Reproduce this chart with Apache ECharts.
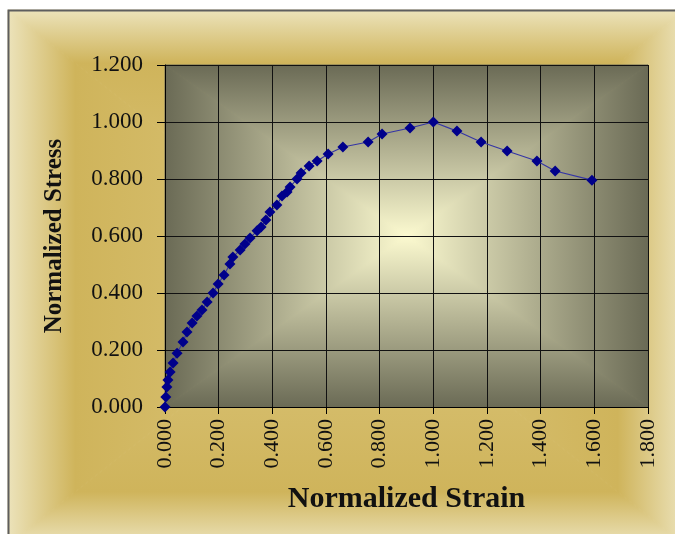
<!DOCTYPE html>
<html>
<head>
<meta charset="utf-8">
<script src="https://cdn.jsdelivr.net/npm/echarts@6/dist/echarts.min.js"></script>
<style>
html,body{margin:0;padding:0;background:#fff;}
#chart{width:675px;height:534px;}
</style>
</head>
<body>
<div id="chart"></div>
<script>
// Data
var strainValues = [0.000, 0.003, 0.007, 0.011, 0.019, 0.030, 0.045, 0.067, 0.082, 0.101,
  0.119, 0.138, 0.157, 0.179, 0.198, 0.220, 0.242, 0.253, 0.280, 0.298,
  0.317, 0.343, 0.358, 0.376, 0.391, 0.417, 0.436, 0.455, 0.466, 0.492,
  0.507, 0.537, 0.567, 0.608, 0.663, 0.757, 0.809, 0.913, 1.000, 1.088,
  1.178, 1.275, 1.386, 1.454, 1.591];
var stressValues = [0.000, 0.035, 0.070, 0.095, 0.123, 0.154, 0.189, 0.228, 0.263, 0.295,
  0.319, 0.340, 0.368, 0.400, 0.432, 0.463, 0.502, 0.526, 0.551, 0.572,
  0.593, 0.618, 0.632, 0.656, 0.684, 0.709, 0.740, 0.754, 0.772, 0.800,
  0.821, 0.846, 0.863, 0.888, 0.912, 0.930, 0.958, 0.979, 1.000, 0.968,
  0.930, 0.898, 0.863, 0.828, 0.796];
var xTicks = [0, 0.2, 0.4, 0.6, 0.8, 1.0, 1.2, 1.4, 1.6, 1.8];
var yTicks = [0, 0.2, 0.4, 0.6, 0.8, 1.0, 1.2];
var xAxisTitle = 'Normalized Strain';
var yAxisTitle = 'Normalized Stress';

var points = strainValues.map(function (x, i) { return [x, stressValues[i]]; });

var FONT = "'Liberation Serif','Times New Roman',serif";
var G = {left: 165, top: 65, right: 648, bottom: 407};

function rectGradient(x0, y0, x1, y1, stops, zv) {
  var cx = (x0 + x1) / 2, cy = (y0 + y1) / 2;
  function lg(dir) {
    var g = {type: 'linear', x: 0, y: 0, x2: 0, y2: 0, global: false, colorStops: stops};
    if (dir === 'top') { g.y2 = 1; }
    if (dir === 'bottom') { g.y = 1; g.y2 = 0; }
    if (dir === 'left') { g.x2 = 1; }
    if (dir === 'right') { g.x = 1; g.x2 = 0; }
    return g;
  }
  function poly(pts, dir) {
    return {type: 'polygon', z: zv, silent: true, shape: {points: pts},
      style: {fill: lg(dir), stroke: lg(dir), lineWidth: 1}};
  }
  return [
    poly([[x0, y0], [x1, y0], [cx, cy]], 'top'),
    poly([[x0, y1], [x1, y1], [cx, cy]], 'bottom'),
    poly([[x0, y0], [x0, y1], [cx, cy]], 'left'),
    poly([[x1, y0], [x1, y1], [cx, cy]], 'right')
  ];
}

var frameStops = [
  {offset: 0, color: '#ece3bb'},
  {offset: 0.2, color: '#cfb45b'},
  {offset: 1, color: '#dcc77e'}
];
var plotStops = [
  {offset: 0, color: '#6a6a55'},
  {offset: 1, color: '#fcfad0'}
];

var graphics = []
  .concat(rectGradient(8, 10, 685, 545, frameStops, -20))
  .concat(rectGradient(G.left, G.top, G.right, G.bottom, plotStops, -10));
graphics.push({type: 'polyline', z: -5, silent: true,
  shape: {points: [[8.5, 545], [8.5, 10.5], [685, 10.5]]},
  style: {stroke: '#5e5e5e', lineWidth: 2, fill: null}});

var chart = echarts.init(document.getElementById('chart'), null, {renderer: 'canvas'});
chart.setOption({
  animation: false,
  backgroundColor: '#ffffff',
  graphic: {elements: graphics},
  grid: {left: 165, top: 65, right: 27, bottom: 127, containLabel: false},
  xAxis: {
    type: 'value', min: 0, max: 1.8, interval: 0.2,
    name: xAxisTitle, nameLocation: 'middle', nameGap: 77,
    nameTextStyle: {fontFamily: FONT, fontWeight: 'bold', fontSize: 30, color: '#111'},
    axisLine: {show: true, lineStyle: {color: '#000', width: 1}},
    axisTick: {show: true, length: 7, lineStyle: {color: '#000'}},
    splitLine: {show: true, lineStyle: {color: '#111', width: 1}},
    axisLabel: {
      rotate: 90, margin: 12, fontFamily: FONT, fontSize: 22, color: '#111',
      formatter: function (v) { return v.toFixed(3); }
    }
  },
  yAxis: {
    type: 'value', min: 0, max: 1.2, interval: 0.2,
    name: yAxisTitle, nameLocation: 'middle', nameGap: 98,
    nameTextStyle: {fontFamily: FONT, fontWeight: 'bold', fontSize: 25, color: '#111'},
    axisLine: {show: true, lineStyle: {color: '#000', width: 1}},
    axisTick: {show: true, length: 8, lineStyle: {color: '#000'}},
    splitLine: {show: true, lineStyle: {color: '#111', width: 1}},
    axisLabel: {
      margin: 22, fontFamily: FONT, fontSize: 23, color: '#111',
      formatter: function (v) { return v.toFixed(3); }
    }
  },
  series: [{
    type: 'line',
    data: points,
    symbol: 'diamond',
    symbolSize: 11,
    showSymbol: true,
    lineStyle: {color: '#3535a5', width: 1.1},
    itemStyle: {color: '#00008b'},
    z: 5
  }]
});
</script>
</body>
</html>
